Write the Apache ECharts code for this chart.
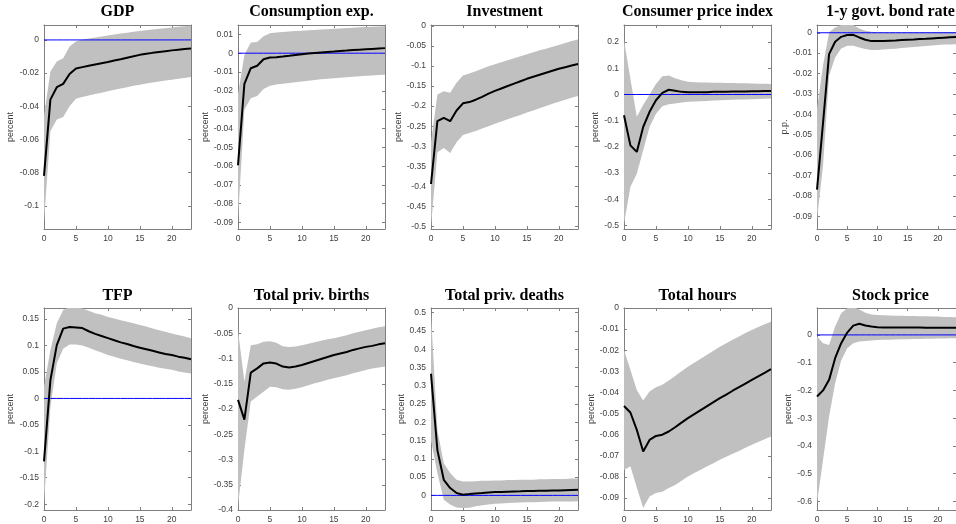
<!DOCTYPE html>
<html><head><meta charset="utf-8">
<script src="https://cdn.jsdelivr.net/npm/echarts@6/dist/echarts.min.js"></script>
<style>html,body{margin:0;padding:0;background:#fff}#c{width:956px;height:524px}</style>
</head><body><div id="c"></div>
<script>
// ---- data ----
const horizons = [0,1,2,3,4,5,6,7,8,9,10,11,12,13,14,15,16,17,18,19,20,21,22,23];
const xTicks = [0,5,10,15,20];

const gdpMed = [-0.082,-0.036,-0.0285,-0.0265,-0.0205,-0.0172,-0.0164,-0.0156,-0.0148,-0.014,-0.0133,-0.0124,-0.0116,-0.0107,-0.0099,-0.009,-0.0084,-0.0078,-0.0073,-0.0068,-0.0063,-0.0059,-0.0055,-0.0052];
const gdpHi  = [-0.046,-0.019,-0.013,-0.011,-0.004,-0.001,0.0002,0.0008,0.0014,0.002,0.0027,0.0033,0.0039,0.0044,0.0049,0.0054,0.0059,0.0063,0.0067,0.0071,0.0075,0.0079,0.0082,0.0085];
const gdpLo  = [-0.11,-0.055,-0.048,-0.0465,-0.04,-0.0355,-0.0344,-0.0335,-0.0326,-0.0318,-0.031,-0.0301,-0.0293,-0.0285,-0.0277,-0.027,-0.0263,-0.0257,-0.0251,-0.0245,-0.024,-0.0234,-0.0229,-0.0224];
const gdpTicks = [-0.1,-0.08,-0.06,-0.04,-0.02,0];

const conMed = [-0.0596,-0.0163,-0.008,-0.0067,-0.0032,-0.0023,-0.0021,-0.0018,-0.0014,-0.0009,-0.0005,-0.0002,0.0001,0.0004,0.0007,0.0009,0.0012,0.0014,0.0017,0.0019,0.0021,0.0023,0.0025,0.0027];
const conHi  = [-0.022,-0.001,0.0057,0.006,0.009,0.0106,0.011,0.0113,0.0115,0.0118,0.012,0.0122,0.0124,0.0126,0.0128,0.013,0.0132,0.0134,0.0136,0.0138,0.014,0.0141,0.0142,0.0143];
const conLo  = [-0.0885,-0.03,-0.024,-0.0227,-0.019,-0.0173,-0.0167,-0.0162,-0.0158,-0.0154,-0.015,-0.0146,-0.0143,-0.0139,-0.0136,-0.0133,-0.013,-0.0128,-0.0125,-0.0122,-0.012,-0.0118,-0.0116,-0.0115];
const conTicks = [-0.09,-0.08,-0.07,-0.06,-0.05,-0.04,-0.03,-0.02,-0.01,0,0.01];

const invMed = [-0.394,-0.2375,-0.229,-0.2375,-0.211,-0.193,-0.19,-0.184,-0.177,-0.169,-0.162,-0.156,-0.15,-0.144,-0.138,-0.132,-0.127,-0.122,-0.117,-0.112,-0.107,-0.103,-0.099,-0.095];
const invHi  = [-0.29,-0.171,-0.163,-0.167,-0.142,-0.124,-0.119,-0.113,-0.107,-0.101,-0.096,-0.091,-0.086,-0.081,-0.076,-0.071,-0.066,-0.061,-0.057,-0.052,-0.048,-0.043,-0.038,-0.034];
const invLo  = [-0.5,-0.315,-0.304,-0.317,-0.29,-0.272,-0.267,-0.262,-0.256,-0.25,-0.244,-0.238,-0.233,-0.227,-0.222,-0.216,-0.211,-0.205,-0.2,-0.194,-0.189,-0.184,-0.179,-0.175];
const invTicks = [-0.5,-0.45,-0.4,-0.35,-0.3,-0.25,-0.2,-0.15,-0.1,-0.05,0];

const cpiMed = [-0.079,-0.194,-0.219,-0.124,-0.066,-0.022,0.006,0.018,0.014,0.01,0.009,0.009,0.009,0.009,0.01,0.01,0.01,0.011,0.011,0.011,0.012,0.012,0.013,0.013];
const cpiHi  = [0.208,0.06,-0.085,-0.04,0.0,0.04,0.07,0.072,0.062,0.054,0.049,0.047,0.046,0.046,0.045,0.045,0.044,0.044,0.043,0.043,0.042,0.041,0.041,0.04];
const cpiLo  = [-0.494,-0.353,-0.302,-0.213,-0.124,-0.073,-0.045,-0.037,-0.034,-0.031,-0.028,-0.027,-0.026,-0.025,-0.023,-0.022,-0.021,-0.02,-0.019,-0.019,-0.018,-0.017,-0.016,-0.015];
const cpiTicks = [-0.5,-0.4,-0.3,-0.2,-0.1,0,0.1,0.2];

const bondMed = [-0.0769,-0.0441,-0.0105,-0.0044,-0.002,-0.0011,-0.001,-0.0023,-0.0034,-0.0041,-0.0041,-0.004,-0.0039,-0.0038,-0.0036,-0.0034,-0.0033,-0.0031,-0.003,-0.0028,-0.0026,-0.0024,-0.0022,-0.0021];
const bondHi  = [-0.0375,-0.016,0.0002,0.0026,0.0038,0.004,0.0038,0.0021,0.001,0.0005,0.0002,0.0002,0.0002,0.0002,0.0003,0.0003,0.0003,0.0003,0.0003,0.0003,0.0004,0.0004,0.0004,0.0004];
const bondLo  = [-0.0916,-0.065,-0.021,-0.0121,-0.0077,-0.0064,-0.0064,-0.0072,-0.008,-0.0084,-0.0084,-0.0082,-0.008,-0.0078,-0.0075,-0.0072,-0.007,-0.0068,-0.0065,-0.0063,-0.006,-0.0058,-0.0057,-0.0056];
const bondTicks = [-0.09,-0.08,-0.07,-0.06,-0.05,-0.04,-0.03,-0.02,-0.01,0];

const tfpMed = [-0.119,0.0345,0.1007,0.132,0.135,0.134,0.133,0.127,0.122,0.118,0.114,0.11,0.106,0.103,0.099,0.096,0.093,0.09,0.087,0.084,0.082,0.079,0.077,0.074];
const tfpHi  = [0.022,0.091,0.142,0.167,0.173,0.173,0.17,0.166,0.161,0.158,0.154,0.151,0.148,0.145,0.142,0.139,0.136,0.132,0.129,0.126,0.123,0.12,0.117,0.114];
const tfpLo  = [-0.198,-0.016,0.066,0.094,0.102,0.102,0.1,0.096,0.091,0.087,0.082,0.079,0.075,0.072,0.069,0.066,0.063,0.061,0.058,0.056,0.054,0.051,0.049,0.047];
const tfpTicks = [-0.2,-0.15,-0.1,-0.05,0,0.05,0.1,0.15];

const birMed = [-0.182,-0.221,-0.128,-0.1196,-0.1097,-0.108,-0.11,-0.116,-0.1176,-0.116,-0.113,-0.109,-0.105,-0.101,-0.097,-0.093,-0.09,-0.087,-0.083,-0.08,-0.077,-0.075,-0.072,-0.07];
const birHi  = [-0.044,-0.146,-0.0736,-0.072,-0.067,-0.0657,-0.069,-0.0756,-0.077,-0.076,-0.0736,-0.071,-0.068,-0.065,-0.062,-0.06,-0.057,-0.054,-0.05,-0.047,-0.044,-0.041,-0.038,-0.036];
const birLo  = [-0.392,-0.28,-0.185,-0.175,-0.1656,-0.156,-0.157,-0.161,-0.162,-0.16,-0.157,-0.153,-0.149,-0.146,-0.142,-0.139,-0.136,-0.133,-0.129,-0.126,-0.123,-0.12,-0.118,-0.116];
const birTicks = [-0.4,-0.35,-0.3,-0.25,-0.2,-0.15,-0.1,-0.05,0];

const dthMed = [0.333,0.124,0.0427,0.02,0.0064,0.002,0.0036,0.0054,0.0065,0.0078,0.009,0.0096,0.0102,0.0107,0.0112,0.0118,0.0122,0.0126,0.013,0.0133,0.0136,0.0142,0.0148,0.0154];
const dthHi  = [0.496,0.179,0.088,0.061,0.0427,0.038,0.038,0.039,0.04,0.04,0.041,0.041,0.042,0.042,0.043,0.043,0.043,0.044,0.044,0.045,0.045,0.045,0.046,0.046];
const dthLo  = [0.15,0.061,-0.012,-0.025,-0.033,-0.0345,-0.034,-0.03,-0.027,-0.025,-0.0227,-0.022,-0.021,-0.02,-0.0195,-0.019,-0.0185,-0.018,-0.0175,-0.017,-0.017,-0.0167,-0.0165,-0.0163];
const dthTicks = [0,0.05,0.1,0.15,0.2,0.25,0.3,0.35,0.4,0.45,0.5];

const hrsMed = [-0.0464,-0.0495,-0.0577,-0.068,-0.0625,-0.0606,-0.06,-0.0585,-0.0565,-0.0543,-0.0522,-0.0503,-0.0484,-0.0465,-0.0446,-0.0427,-0.041,-0.0392,-0.0375,-0.0358,-0.0341,-0.0324,-0.0307,-0.029];
const hrsHi  = [-0.0199,-0.0293,-0.0388,-0.0438,-0.0396,-0.0375,-0.0364,-0.0344,-0.0322,-0.03,-0.0278,-0.0259,-0.024,-0.0221,-0.0202,-0.0183,-0.0167,-0.0151,-0.0135,-0.0119,-0.0104,-0.009,-0.0077,-0.0065];
const hrsLo  = [-0.0767,-0.075,-0.085,-0.0948,-0.0893,-0.0877,-0.087,-0.0853,-0.0838,-0.0818,-0.0798,-0.0782,-0.0766,-0.075,-0.0735,-0.0719,-0.0705,-0.0691,-0.0677,-0.0662,-0.0648,-0.0635,-0.0622,-0.0609];
const hrsTicks = [-0.09,-0.08,-0.07,-0.06,-0.05,-0.04,-0.03,-0.02,-0.01,0];

const stkMed = [-0.222,-0.2,-0.162,-0.084,-0.03,0.0084,0.0336,0.04,0.034,0.03,0.0276,0.027,0.027,0.027,0.027,0.027,0.027,0.027,0.026,0.026,0.026,0.026,0.026,0.026];
const stkHi  = [-0.006,-0.03,-0.036,0.03,0.078,0.096,0.1,0.092,0.08,0.074,0.072,0.071,0.07,0.069,0.069,0.068,0.068,0.067,0.067,0.066,0.066,0.065,0.065,0.064];
const stkLo  = [-0.606,-0.45,-0.294,-0.174,-0.092,-0.048,-0.03,-0.024,-0.0216,-0.02,-0.018,-0.0175,-0.017,-0.0165,-0.016,-0.0156,-0.015,-0.0145,-0.014,-0.0136,-0.0132,-0.0128,-0.0124,-0.012];
const stkTicks = [-0.6,-0.5,-0.4,-0.3,-0.2,-0.1,0];

const titles = ['GDP','Consumption exp.','Investment','Consumer price index','1-y govt. bond rate','TFP','Total priv. births','Total priv. deaths','Total hours','Stock price'];
const units  = ['percent','percent','percent','percent','p.p.','percent','percent','percent','percent','percent'];

// ---- panels ----
const panels = [
  {med:gdpMed, hi:gdpHi, lo:gdpLo, ticks:gdpTicks, min:-0.114, max:0.009, zero:true, gap:29},
  {med:conMed, hi:conHi, lo:conLo, ticks:conTicks, min:-0.0935, max:0.015, zero:true, gap:26},
  {med:invMed, hi:invHi, lo:invLo, ticks:invTicks, min:-0.506, max:0.002, zero:false, gap:24},
  {med:cpiMed, hi:cpiHi, lo:cpiLo, ticks:cpiTicks, min:-0.513, max:0.265, zero:true, gap:20},
  {med:bondMed, hi:bondHi, lo:bondLo, ticks:bondTicks, min:-0.0962, max:0.0038, zero:true, gap:23},
  {med:tfpMed, hi:tfpHi, lo:tfpLo, ticks:tfpTicks, min:-0.211, max:0.171, zero:true, gap:29},
  {med:birMed, hi:birHi, lo:birLo, ticks:birTicks, min:-0.4, max:0, zero:false, gap:25},
  {med:dthMed, hi:dthHi, lo:dthLo, ticks:dthTicks, min:-0.04, max:0.513, zero:true, gap:22},
  {med:hrsMed, hi:hrsHi, lo:hrsLo, ticks:hrsTicks, min:-0.0957, max:0, zero:false, gap:22},
  {med:stkMed, hi:stkHi, lo:stkLo, ticks:stkTicks, min:-0.631, max:0.097, zero:true, gap:20}
];

const colLeft = [44, 238, 431, 624, 817];
const rowTop = [25, 308];
const rowH = [204, 203];
const W = 147;
const titleY = [12, 296];

const axisCol = '#7f7f7f';
function mkLine(){ return {show:true, onZero:false, lineStyle:{color:axisCol, width:1}}; }
function mkTick(vals){ return {show:true, inside:true, length:3, customValues:vals, lineStyle:{color:axisCol, width:1}}; }
function mkLabel(vals){ return {show:true, customValues:vals, margin:5, formatter:v=>String(v),
  fontFamily:'Liberation Sans', fontSize:8.5, color:'#404040'}; }

const grid=[], xAxis=[], yAxis=[], series=[], graphic=[];
panels.forEach((p,i)=>{
  const r = Math.floor(i/5), c = i%5;
  grid.push({left:colLeft[c], top:rowTop[r], width:W, height:rowH[r]});
  xAxis.push({type:'value', gridIndex:i, min:0, max:23, position:'bottom',
    axisLine:mkLine(), axisTick:mkTick(xTicks), axisLabel:mkLabel(xTicks), splitLine:{show:false}});
  xAxis.push({type:'value', gridIndex:i, min:0, max:23, position:'top',
    axisLine:mkLine(), axisTick:mkTick(xTicks), axisLabel:{show:false}, splitLine:{show:false}});
  yAxis.push({type:'value', gridIndex:i, min:p.min, max:p.max, position:'left',
    name:units[i], nameLocation:'middle', nameRotate:90, nameGap:p.gap,
    nameTextStyle:{fontFamily:'Liberation Sans', fontSize:9, color:'#404040'},
    axisLine:mkLine(), axisTick:mkTick(p.ticks), axisLabel:mkLabel(p.ticks), splitLine:{show:false}});
  yAxis.push({type:'value', gridIndex:i, min:p.min, max:p.max, position:'right',
    axisLine:mkLine(), axisTick:mkTick(p.ticks), axisLabel:{show:false}, splitLine:{show:false}});
  const xi = 2*i, yi = 2*i;
  // confidence band polygon
  series.push({type:'custom', xAxisIndex:xi, yAxisIndex:yi, silent:true, clip:true, z:1,
    data:horizons.map((h,k)=>[h, p.lo[k], p.hi[k]]),
    encode:{x:0, y:[1,2]},
    renderItem:(params, api)=>{
      if (params.dataIndex !== 0) return null;
      const pts = [];
      for (let k=0;k<horizons.length;k++) pts.push(api.coord([horizons[k], p.hi[k]]));
      for (let k=horizons.length-1;k>=0;k--) pts.push(api.coord([horizons[k], p.lo[k]]));
      const cs = params.coordSys;
      return {type:'polygon', shape:{points:pts}, style:{fill:'#c0c0c0', stroke:null},
        clipPath:{type:'rect', shape:{x:cs.x, y:cs.y, width:cs.width, height:cs.height}}};
    }});
  if (p.zero) {
    series.push({type:'line', xAxisIndex:xi, yAxisIndex:yi, silent:true, z:2,
      data:horizons.map(h=>[h,0]), symbol:'none', lineStyle:{color:'#0000ff', width:1}});
  }
  series.push({type:'line', xAxisIndex:xi, yAxisIndex:yi, silent:true, z:3,
    data:horizons.map((h,k)=>[h,p.med[k]]), symbol:'none',
    lineStyle:{color:'#000', width:2}});
  graphic.push({type:'text', x:colLeft[c]+W/2, y:titleY[r], silent:true,
    style:{text:titles[i], fontFamily:'Liberation Serif', fontWeight:'bold', fontSize:16,
      fill:'#000', align:'center', verticalAlign:'middle'}});
});

const chart = echarts.init(document.getElementById('c'), null, {renderer:'canvas'});
chart.setOption({animation:false, backgroundColor:'#fff', grid, xAxis, yAxis, series, graphic});
</script>
</body></html>
